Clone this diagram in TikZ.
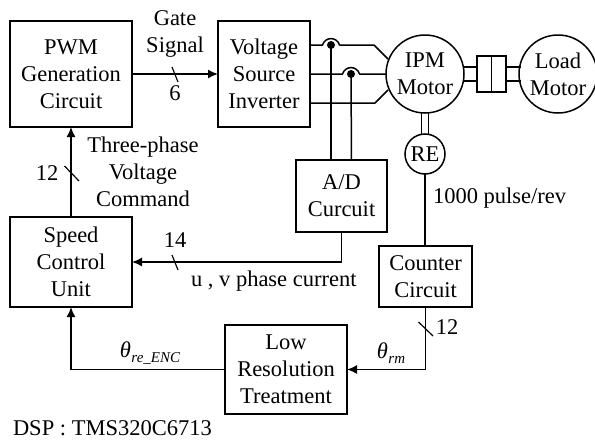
\documentclass[tikz,border=0pt]{standalone}
\usepackage{fontspec}
\setmainfont{Liberation Serif}
\usetikzlibrary{arrows.meta}
\tikzset{
  x=1pt,y=-1pt,
  block/.style={draw,line width=1.5pt,inner sep=0pt,outer sep=0pt,align=center,font=\fs},
  roundblock/.style={draw,circle,line width=1.5pt,inner sep=0pt,outer sep=0pt,align=center,font=\fs},
  wire/.style={line width=1.5pt},
  thin wire/.style={line width=1.2pt},
  sig/.style={line width=1.5pt,-{Latex[length=10pt,width=9pt]}},
  tick/.style={line width=1.2pt},
  lab/.style={inner sep=0pt,outer sep=0pt,align=center,font=\fs},
}
\newcommand{\fs}{\fontsize{22.5}{27}\selectfont}
\newcommand{\thetasub}[1]{{\itshape θ\kern0.5pt\raisebox{-4.5pt}{\fontsize{15}{15}\selectfont #1}}}
\begin{document}
\begin{tikzpicture}
\useasboundingbox (0,0) rectangle (595,442);
% blocks
\node[block,minimum width=122pt,minimum height=106pt] (pwm) at (71,74) {PWM\\Generation\\Circuit};
\node[block,minimum width=92pt,minimum height=106pt] (vsi) at (264,74) {Voltage\\Source\\Inverter};
\node[block,minimum width=91pt,minimum height=72pt] (ad) at (341.5,196) {A/D\\Curcuit};
\node[block,minimum width=122pt,minimum height=90pt] (speed) at (71,262) {Speed\\Control\\Unit};
\node[block,minimum width=122pt,minimum height=89pt] (low) at (286,369.5) {Low\\Resolution\\Treatment};
\node[block,minimum width=93pt,minimum height=61pt] (counter) at (425.5,276.5) {Counter\\Circuit};
\node[roundblock,minimum size=78pt] (ipm) at (425,74) {IPM\\Motor};
\node[roundblock,minimum size=78pt] (load) at (558,74) {Load\\Motor};
\node[roundblock,minimum size=40pt] (re) at (425,154) {RE};
\node[block,minimum width=29pt,minimum height=36pt] (coup) at (491.5,74) {};
% coupling
\draw[wire] (coup.north) -- (coup.south);
\coordinate (s1a) at (463.5,67); \coordinate (s1b) at (477,67);
\coordinate (s2a) at (463.5,81); \coordinate (s2b) at (477,81);
\coordinate (s3a) at (506,67); \coordinate (s3b) at (520.5,67);
\coordinate (s4a) at (506,81); \coordinate (s4b) at (520.5,81);
\draw[thin wire] (s1a) -- (s1b) (s2a) -- (s2b) (s3a) -- (s3b) (s4a) -- (s4b);
% encoder shaft
\coordinate (e1a) at (421.8,113); \coordinate (e1b) at (421.8,134.5);
\coordinate (e2a) at (428.7,113); \coordinate (e2b) at (428.7,134.5);
\draw[thin wire] (e1a) -- (e1b) (e2a) -- (e2b);
% inverter-motor wires
\coordinate (w1) at (310,45); \coordinate (w1h1) at (322.5,45); \coordinate (w1h2) at (339.5,45);
\coordinate (w1k) at (374,45); \coordinate (w1m) at (388,59);
\coordinate (w2) at (310,74); \coordinate (w2h1) at (342.5,74); \coordinate (w2h2) at (359.5,74);
\coordinate (w2m) at (386,74);
\coordinate (w3) at (310,103); \coordinate (w3k) at (375,103); \coordinate (w3m) at (388,90);
\draw[wire,line join=round] (w1) -- (w1h1) .. controls (325,36.5) and (337,36.5) .. (w1h2) -- (w1k) -- (w1m);
\draw[wire,line join=round] (w2) -- (w2h1) .. controls (345,65.5) and (357,65.5) .. (w2h2) -- (w2m);
\draw[wire,line join=round] (w3) -- (w3k) -- (w3m);
\coordinate (d1) at (331,45); \coordinate (d2) at (351,74);
\coordinate (a1) at (331,160); \coordinate (a2) at (351.5,160);
\draw[wire] (d1) -- (a1);
\draw[wire] (d2) -- (a2);
\fill (d1) circle (4pt) (d2) circle (4pt);
% signals
\draw[sig] (pwm.east) -- (vsi.west);
\draw[sig] (speed.north) -- (pwm.south);
\draw[sig] (ad.south) |- (speed.east);
\draw[wire] (re.south) -- (re.south|-counter.north);
\draw[sig] (counter.south) |- (low.east);
\draw[sig] (low.west) -| (speed.south);
% ticks
\coordinate (t1a) at (172,67); \coordinate (t1b) at (178,82);
\coordinate (t2a) at (64.5,166); \coordinate (t2b) at (79,181);
\coordinate (t3a) at (172,255); \coordinate (t3b) at (178,270);
\coordinate (t4a) at (418.5,322); \coordinate (t4b) at (433,336);
\draw[tick] (t1a) -- (t1b) (t2a) -- (t2b) (t3a) -- (t3b) (t4a) -- (t4b);
% labels
\node[lab] (gs) at (175,34) {Gate\\Signal};
\node[lab] (n6) at (175,93) {6};
\node[lab] (n12a) at (47,173) {12};
\node[lab] (tp) at (143,172) {Three-phase\\Voltage\\Command};
\node[lab] (n14) at (175,240) {14};
\node[lab,anchor=west] (uv) at (191,281) {u , v phase current};
\node[lab,anchor=west] (ppr) at (433,198) {1000 pulse/rev};
\node[lab] (n12b) at (447,327) {12};
\node[lab] (trm) at (391,353) {\thetasub{rm}};
\node[lab] (tre) at (150,353) {\thetasub{re\_ENC}};
\node[lab,anchor=west] (dsp) at (13,428) {DSP : TMS320C6713};
\end{tikzpicture}
\end{document}
